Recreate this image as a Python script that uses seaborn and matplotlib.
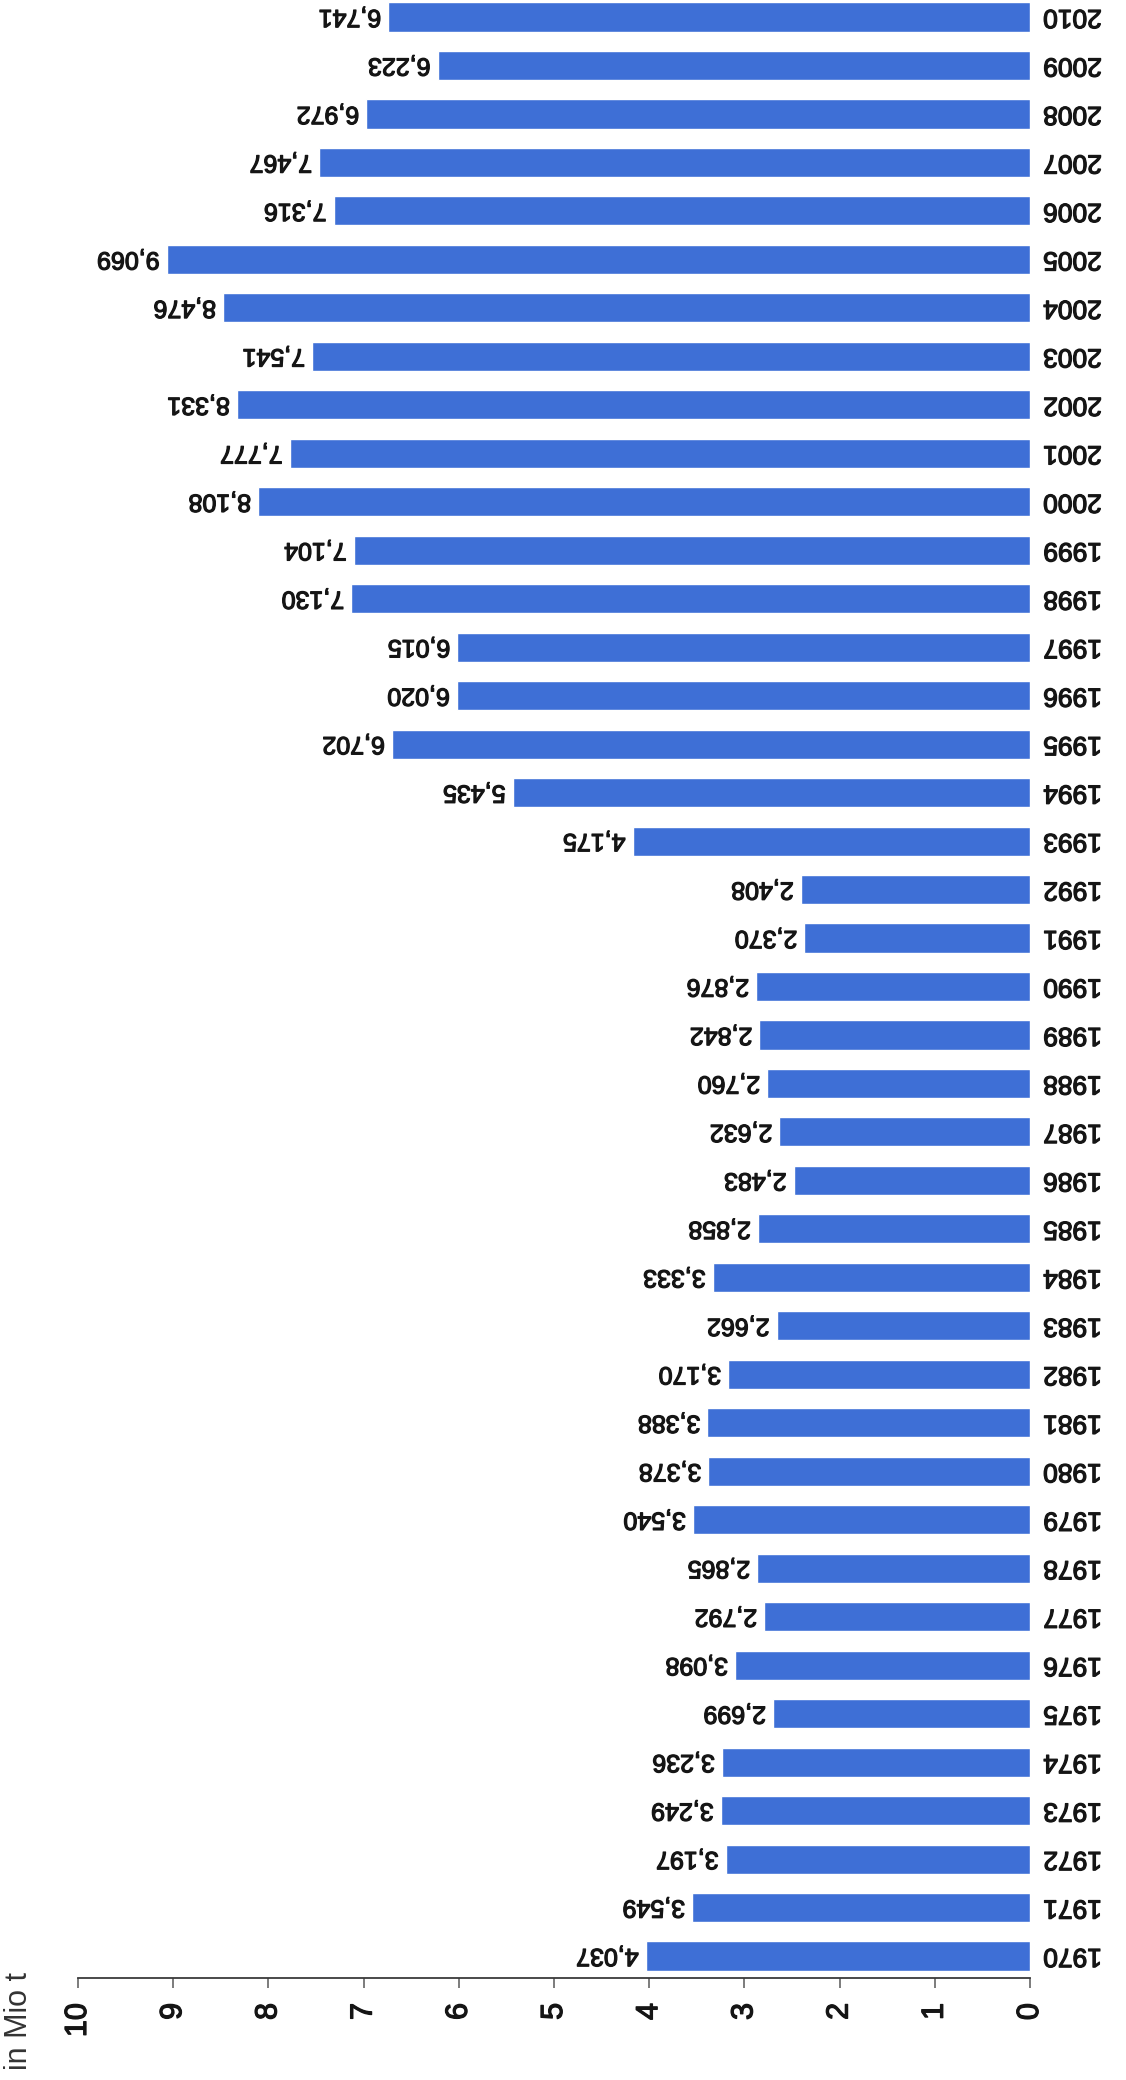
import matplotlib
matplotlib.use("Agg")
import matplotlib.pyplot as plt
import matplotlib.patheffects as pe
import seaborn as sns
import pandas as pd

# ---- data ----
years = [str(y) for y in range(1970, 2011)]
values = [4.037, 3.549, 3.197, 3.249, 3.236, 2.699, 3.098, 2.792, 2.865, 3.540,
          3.378, 3.388, 3.170, 2.662, 3.333, 2.858, 2.483, 2.632, 2.760, 2.842,
          2.876, 2.370, 2.408, 4.175, 5.435, 6.702, 6.020, 6.015, 7.130, 7.104,
          8.108, 7.777, 8.331, 7.541, 8.476, 9.069, 7.316, 7.467, 6.972, 6.223,
          6.741]
value_ticks = list(range(0, 11))
unit_label = "in Mio t"

BAR_COLOR = "#3e6fd6"
TEXT_COLOR = "#151515"
HEAVY = [pe.withStroke(linewidth=0.9, foreground=TEXT_COLOR)]

sns.set_theme(style="white")
plt.rcParams["font.family"] = ["Liberation Sans", "DejaVu Sans"]

df = pd.DataFrame({"year": years, "value": values})
order = years[::-1]

fig = plt.figure(figsize=(11.26, 20.80), dpi=100)
W, H = 1126, 2080
x_left, x_right = 78, 1030
y_axis = 1978
ax = fig.add_axes([x_left / W, (H - y_axis) / H, (x_right - x_left) / W, y_axis / H])

sns.barplot(data=df, x="value", y="year", order=order, orient="h",
            color=BAR_COLOR, saturation=1, width=0.6, ax=ax)

ax.set_xlim(10, 0)
ax.set_ylim(40.454, -0.351)
ax.set_xticks(value_ticks)
ax.set_xticklabels([str(t) for t in value_ticks], rotation=90)
ax.set_xlabel("")
ax.set_ylabel("")

for side in ["top", "left", "right"]:
    ax.spines[side].set_visible(False)
ax.spines["bottom"].set_color("#3a3a3a")
ax.spines["bottom"].set_linewidth(1.3)

ax.tick_params(axis="x", bottom=True, direction="out", length=7, width=1.2,
               color="#666666", labelsize=22, pad=11, labelcolor=TEXT_COLOR)
for lbl in ax.get_xticklabels():
    lbl.set_path_effects(HEAVY)

ax.yaxis.tick_right()
ax.tick_params(axis="y", left=False, right=False, length=0, pad=9.5,
               labelsize=19, labelcolor=TEXT_COLOR)
for lbl in ax.get_yticklabels():
    lbl.set_rotation(180)
    lbl.set_va("center")
    lbl.set_path_effects(HEAVY)

# value labels, drawn from the bars themselves
for p in ax.patches:
    w = p.get_width()
    yc = p.get_y() + p.get_height() / 2
    ax.annotate(f"{w:.3f}".replace(".", ","), xy=(w, yc),
                xytext=(-7, 0), textcoords="offset pixels",
                rotation=180, ha="right", va="center",
                fontsize=18, color=TEXT_COLOR, path_effects=HEAVY)

fig.text(19 / W, 1 - 2021 / H, unit_label, rotation=90, ha="center",
         va="center", fontsize=22, color="#333333")

fig.savefig("out.png", dpi=100)
